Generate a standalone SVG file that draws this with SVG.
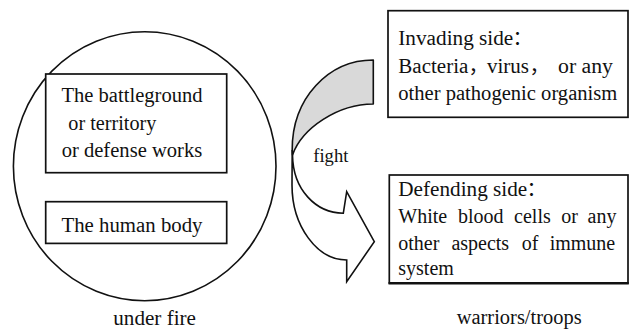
<svg xmlns="http://www.w3.org/2000/svg" width="630" height="331" viewBox="0 0 630 331">
<style>
text{font-family:"Liberation Serif","Times New Roman",serif;font-size:20px;fill:#111}
.box{fill:#fff;stroke:#111;stroke-width:1.7}
.ln{fill:none;stroke:#111;stroke-width:1.6}
.cj{font-family:"Noto Sans CJK SC",sans-serif}
</style>
<rect width="630" height="331" fill="#fff"/>
<g id="body-circle">
<ellipse cx="144.7" cy="166.2" rx="131.3" ry="134.5" class="ln"/>
<text x="113.3" y="325" textLength="82.7" lengthAdjust="spacingAndGlyphs">under fire</text>
</g>
<g id="battleground">
<rect x="45.7" y="74" width="181" height="98.7" class="box"/>
<text x="61.5" y="102.3" textLength="141" lengthAdjust="spacingAndGlyphs">The battleground</text>
<text x="68.3" y="130" textLength="88" lengthAdjust="spacingAndGlyphs">or territory</text>
<text x="61.7" y="157.3" textLength="140.5" lengthAdjust="spacingAndGlyphs">or defense works</text>
</g>
<g id="human-body">
<rect x="45.7" y="201.7" width="181" height="41.7" class="box"/>
<text x="61.5" y="231.7" textLength="141" lengthAdjust="spacingAndGlyphs">The human body</text>
</g>
<g id="connectors">
<path d="M373.3,60 C328.6,60 292,98 292.2,150 L292.5,155 C302,128 338,104 373.3,104 Z" fill="#d9d9d9" stroke="#111" stroke-width="1.6" stroke-linejoin="round"/>
<path d="M292.5,155 C293,190 316,213 343.3,213.3 L346.7,191.7 L374.3,241.7 L346.7,281.7 L346.7,260 C317,260 292,226 292,185 L292.2,150 Z" fill="#fff" stroke="#111" stroke-width="1.6" stroke-linejoin="miter"/>
<text x="313.3" y="162" textLength="35" lengthAdjust="spacingAndGlyphs" style="font-size:19px">fight</text>
</g>
<g id="invading-side">
<rect x="388" y="10.7" width="240" height="106.6" class="box"/>
<text x="398.3" y="45" textLength="115" lengthAdjust="spacingAndGlyphs">Invading side</text>
<text x="512.5" y="45" class="cj">：</text>
<text x="398.3" y="72.7" textLength="70" lengthAdjust="spacingAndGlyphs">Bacteria</text>
<text x="468.5" y="72.7" class="cj">，</text>
<text x="487" y="72.7" textLength="42" lengthAdjust="spacingAndGlyphs">virus</text>
<text x="529.5" y="72.7" class="cj">，</text>
<text x="558" y="72.7" textLength="55" lengthAdjust="spacingAndGlyphs">or any</text>
<text x="398.3" y="100" textLength="219" lengthAdjust="spacingAndGlyphs">other pathogenic organism</text>
</g>
<g id="defending-side">
<rect x="389.3" y="175" width="238.7" height="108" class="box"/>
<line x1="388.5" y1="283.3" x2="628.8" y2="283.3" stroke="#111" stroke-width="2.4"/>
<text x="398.3" y="195.7" textLength="129" lengthAdjust="spacingAndGlyphs">Defending side</text>
<text x="526.5" y="195.7" class="cj">：</text>
<text y="223.3"><tspan x="398.3">White</tspan><tspan x="457.9">blood</tspan><tspan x="514.1">cells</tspan><tspan x="561.2">or</tspan><tspan x="587.6">any</tspan></text>
<text y="250"><tspan x="398.3">other</tspan><tspan x="451.4">aspects</tspan><tspan x="521.7">of</tspan><tspan x="549.7">immune</tspan></text>
<text x="398.3" y="275">system</text>
<text x="456.7" y="324" textLength="125" lengthAdjust="spacingAndGlyphs">warriors/troops</text>
</g>
</svg>
